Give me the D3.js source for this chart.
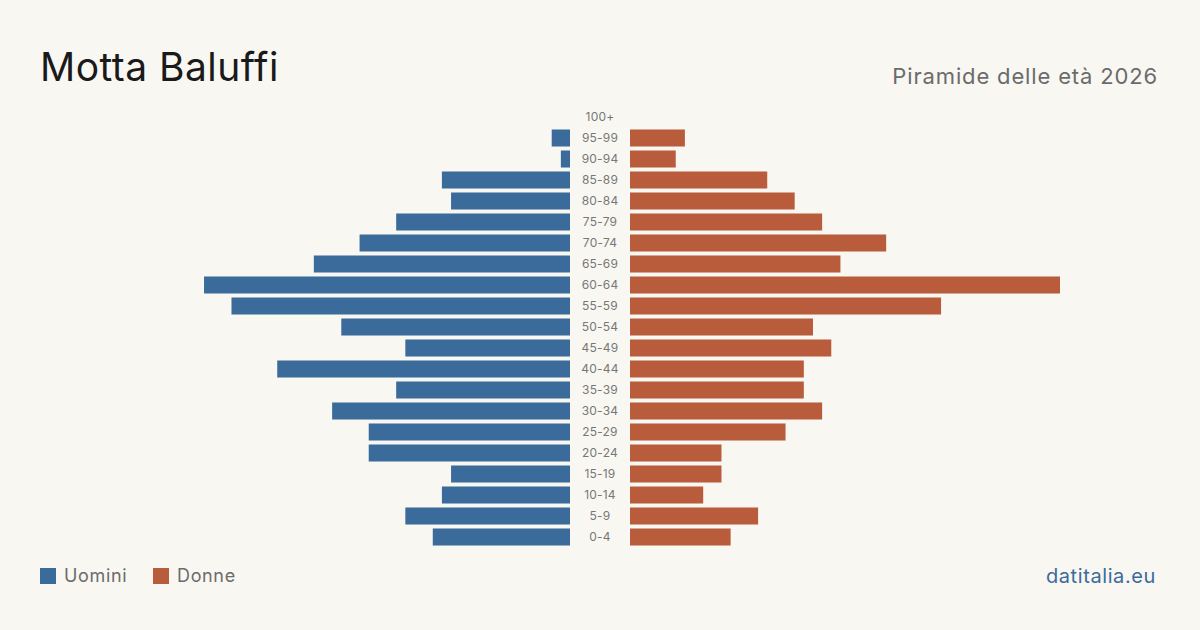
<!DOCTYPE html>
<html>
<head>
<meta charset="utf-8">
<script src="https://cdn.jsdelivr.net/npm/d3@7"></script>
<style>
  html, body { margin: 0; padding: 0; background: #f9f7f2; }
  svg { display: block; font-family: Inter, "Noto Sans", sans-serif; }
</style>
</head>
<body>
<svg id="chart" width="1200" height="630"></svg>
<script>
// Classi di età (dall'alto verso il basso)
var ageGroups = ["100+", "95-99", "90-94", "85-89", "80-84", "75-79", "70-74", "65-69", "60-64", "55-59",
                 "50-54", "45-49", "40-44", "35-39", "30-34", "25-29", "20-24", "15-19", "10-14", "5-9", "0-4"];
var men   = [0, 2, 1, 14, 13, 19, 23, 28, 40, 37, 25, 18, 32, 19, 26, 22, 22, 13, 14, 18, 15];
var women = [0, 6, 5, 15, 18, 21, 28, 23, 47, 34, 20, 22, 19, 19, 21, 17, 10, 10, 8, 14, 11];

var blue = "#3b6b9b", orange = "#b95c3c";

var svg = d3.select("#chart");

svg.append("rect").attr("width", 1200).attr("height", 630).attr("fill", "#f9f7f2");

// Titoli
svg.append("text")
    .attr("x", 40).attr("y", 81)
    .attr("font-size", 39).attr("fill", "#1a1a1a")
    .attr("letter-spacing", 0.45)
    .text("Motta Baluffi");

svg.append("text")
    .attr("x", 1158).attr("y", 84)
    .attr("text-anchor", "end")
    .attr("font-size", 22).attr("fill", "#6b6b6b")
    .attr("letter-spacing", 0.85)
    .text("Piramide delle età 2026");

// Scale
var y = d3.scaleBand()
    .domain(ageGroups)
    .range([106.5, 547.5])
    .paddingInner(0.19)
    .paddingOuter(0.095);

var maxVal = d3.max(men.concat(women));
var xLeft = d3.scaleLinear().domain([0, maxVal]).range([570, 140]);
var xRight = d3.scaleLinear().domain([0, maxVal]).range([630, 1060]);

var data = ageGroups.map(function(g, i) {
    return { group: g, men: men[i], women: women[i] };
});

// Barre uomini
svg.append("g").selectAll("rect")
    .data(data)
    .enter().append("rect")
    .attr("x", function(d) { return xLeft(d.men); })
    .attr("y", function(d) { return y(d.group); })
    .attr("width", function(d) { return xLeft(0) - xLeft(d.men); })
    .attr("height", y.bandwidth())
    .attr("fill", blue);

// Barre donne
svg.append("g").selectAll("rect")
    .data(data)
    .enter().append("rect")
    .attr("x", xRight(0))
    .attr("y", function(d) { return y(d.group); })
    .attr("width", function(d) { return xRight(d.women) - xRight(0); })
    .attr("height", y.bandwidth())
    .attr("fill", orange);

// Etichette centrali
svg.append("g").selectAll("text")
    .data(data)
    .enter().append("text")
    .attr("x", 600)
    .attr("y", function(d) { return y(d.group) + y.bandwidth() / 2; })
    .attr("dy", "0.35em")
    .attr("text-anchor", "middle")
    .attr("font-size", 12)
    .attr("letter-spacing", 0.2)
    .attr("fill", "#777")
    .text(function(d) { return d.group; });

// Legenda
var legend = [{ label: "Uomini", color: blue, x: 40 }, { label: "Donne", color: orange, x: 153 }];
var lg = svg.append("g").selectAll("g")
    .data(legend)
    .enter().append("g")
    .attr("transform", function(d) { return "translate(" + d.x + ",568)"; });
lg.append("rect").attr("width", 16).attr("height", 16).attr("fill", function(d) { return d.color; });
lg.append("text")
    .attr("x", 24).attr("y", 8).attr("dy", "0.35em")
    .attr("font-size", 18).attr("fill", "#6b6b6b")
    .attr("letter-spacing", 0.65)
    .text(function(d) { return d.label; });

// Fonte
svg.append("text")
    .attr("x", 1156).attr("y", 583)
    .attr("text-anchor", "end")
    .attr("font-size", 20).attr("fill", blue)
    .attr("letter-spacing", 0.6)
    .text("datitalia.eu");
</script>
</body>
</html>
